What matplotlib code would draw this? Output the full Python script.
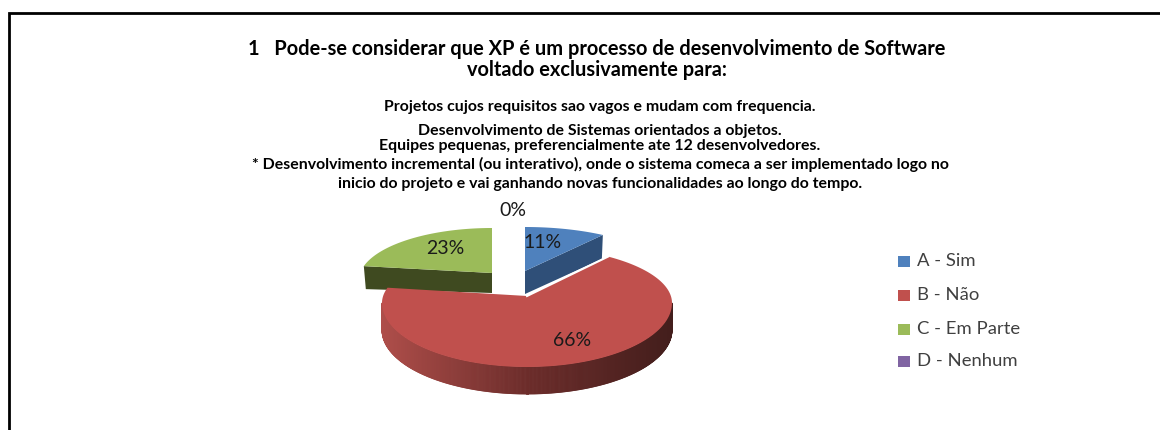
import numpy as np
import matplotlib
matplotlib.use("Agg")
import matplotlib.pyplot as plt
from matplotlib.colors import to_rgb
from matplotlib.patches import Polygon, Rectangle
from matplotlib.collections import PolyCollection

plt.rcParams['font.family'] = ['Lato', 'DejaVu Sans']

categories = ["A - Sim", "B - Não", "C - Em Parte", "D - Nenhum"]
values = [11, 66, 23, 0]
labels = ["11%", "66%", "23%", "0%"]
colors = ["#4F81BD", "#C0504D", "#9BBB59", "#8064A2"]
side_dark = ["#2F4F78", "#7A3330", "#3F4A20", "#4F3F66"]
title = "1   Pode-se considerar que XP é um processo de desenvolvimento de Software\nvoltado exclusivamente para:"
notes = ["Projetos cujos requisitos sao vagos e mudam com frequencia.",
         "Desenvolvimento de Sistemas orientados a objetos.",
         "Equipes pequenas, preferencialmente ate 12 desenvolvedores.",
         "* Desenvolvimento incremental (ou interativo), onde o sistema comeca a ser implementado logo no",
         "inicio do projeto e vai ganhando novas funcionalidades ao longo do tempo."]

W, H = 1160, 430
fig = plt.figure(figsize=(W / 100, H / 100), dpi=100, facecolor="white")
ax = fig.add_axes([0, 0, 1, 1])
ax.set_xlim(0, W)
ax.set_ylim(H, 0)
ax.axis("off")

# chart frame: top and left only within the crop
ax.plot([8.5, 8.5, W], [H, 13, 13], color="black", lw=2, solid_joinstyle="miter")


def arc(cx, cy, rx, ry, a0, a1, n=120):
    t = np.deg2rad(np.linspace(a0, a1, n))
    return np.column_stack([cx + rx * np.sin(t), cy - ry * np.cos(t)])


spans = []
start = 0.0
for v in values:
    spans.append((start, start + 3.6 * v))
    start += 3.6 * v

# perspective squeezes slice angles on the ellipse
# blue slice (back right)
a0, a1 = spans[0]
apex = np.array([525, 271])
top = np.vstack([apex, arc(525, 278, 145, 51, a0 * 0.82, a1 * 0.82)])
ax.add_patch(Polygon([apex, top[-1], top[-1] + [-1, 24], apex + [0, 23]], closed=True,
                     fc=side_dark[0], ec="none", zorder=2))
ax.add_patch(Polygon(top, closed=True, fc=colors[0], ec="none", zorder=3))

# green slice (back left, exploded)
a0, a1 = spans[2]
apex = np.array([492, 273])
top = np.vstack([apex, arc(492, 280, 133, 52, 360 - (360 - a0) * 0.9, a1)])
ax.add_patch(Polygon([apex, top[1], top[1] + [2, 23], apex + [0, 20]], closed=True,
                     fc=side_dark[2], ec="none", zorder=2))
ax.add_patch(Polygon(top, closed=True, fc=colors[2], ec="none", zorder=3))

# red slice (front): gradient wall, then the top face
a0, a1 = spans[1]
cx, cy, rx, ry_low, ry_up, depth = 527, 303, 145, 64, 56, 27
c_left = np.array(to_rgb("#AE4E4A"))
c_mid = np.array(to_rgb("#6C2C2A"))
c_right = np.array(to_rgb("#431E1C"))
A = np.linspace(90, 270, 400)
polys, cols = [], []
for i in range(len(A) - 1):
    q = arc(cx, cy, rx, ry_low, A[i], A[i + 1], 2)
    polys.append(np.vstack([q, q[::-1] + [0, depth]]))
    x = (q[:, 0].mean() - (cx - rx)) / (2 * rx)
    c = c_left + (c_mid - c_left) * x * 2 if x < 0.5 else c_mid + (c_right - c_mid) * (x - 0.5) * 2
    cols.append(np.clip(c, 0, 1))
ax.add_collection(PolyCollection(polys, facecolors=cols, edgecolors=cols, lw=0.6, zorder=4))

t0 = 34.0
t1 = t0 + (a1 - a0) * 1.06
upper_r = arc(cx, cy, rx, ry_up, t0, 90, 40)
lower = arc(cx, cy, rx, ry_low, 90, 270, 160)
upper_l = arc(cx, cy, rx, ry_up, 270, t1, 20)
apex = np.array([527, 296])
top = np.vstack([apex, upper_r, lower, upper_l])
ax.add_patch(Polygon(top, closed=True, fc=colors[1], ec="none", zorder=5))
ax.plot([apex[0], upper_r[0, 0]], [apex[1], upper_r[0, 1]], color="white", lw=1.5, zorder=6)

# value labels
label_pos = [(543, 243), (572, 340), (445, 249), (513, 211)]
for s, (x, y) in zip(labels, label_pos):
    ax.text(x, y, s, ha="center", va="center", fontsize=14, color="#1a1a1a", zorder=8)

# title block
ax.text(597, 59.5, title, ha="center", va="center", fontsize=14.4, color="black",
        linespacing=1.08, fontweight="bold")
note_y = [107, 131, 146, 164, 184]
for s, y in zip(notes, note_y):
    ax.text(600, y, s, ha="center", va="center", fontsize=11.4, color="black", fontweight="bold")

# legend
leg_y = [261, 295, 329, 361]
for name, c, y in zip(categories, colors, leg_y):
    ax.add_patch(Rectangle((898, y - 5.5), 12, 11, fc=c, ec="none"))
    ax.text(917, y + 0.5, name, ha="left", va="center", fontsize=13.3, color="#404040")

fig.savefig("out.png", dpi=100, facecolor="white")
